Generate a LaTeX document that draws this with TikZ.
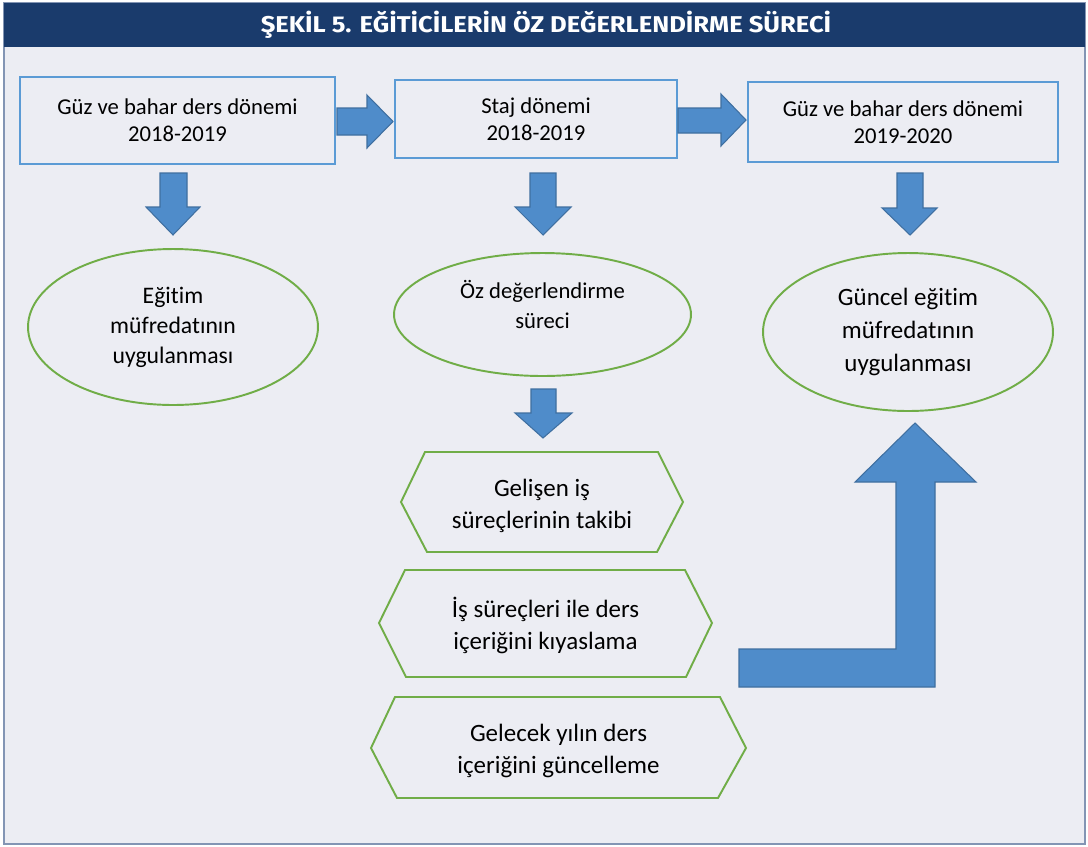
\documentclass[tikz,border=0pt]{standalone}
\usepackage{fontspec}
\setmainfont{Carlito}[Ligatures=NoCommon]
\newfontfamily\titlefont{Fira Sans}
\usetikzlibrary{shapes.geometric}
\definecolor{panelbg}{HTML}{ECEDF3}
\definecolor{framecol}{HTML}{8395B4}
\definecolor{titlebar}{HTML}{1A3B6C}
\definecolor{boxblue}{HTML}{5B9BD5}
\definecolor{ovalgreen}{HTML}{70AD47}
\definecolor{arrowblue}{HTML}{4F8CCA}
\definecolor{arrowedge}{HTML}{3F6FA0}

\begin{document}
\begin{tikzpicture}[x=0.02cm,y=-0.02cm,
 box/.style={draw=boxblue,line width=1.2pt,fill=panelbg,align=center,font=\fontsize{12.9}{15.5}\selectfont},
 oval/.style={ellipse,draw=ovalgreen,line width=1.1pt,inner sep=0pt,align=center},
 hexa/.style={draw=ovalgreen,line width=1.1pt,line join=miter},
 hextext/.style={align=center,font=\fontsize{14.2}{18.2}\selectfont},
 blockarrow/.style={fill=arrowblue,draw=arrowedge,line width=0.6pt,line join=miter}]
 \useasboundingbox (0,0) rectangle (1088,846);
 % panel and title
 \draw[draw=framecol,line width=1.3pt,fill=panelbg](4,3) rectangle (1085,844);
 \fill[titlebar](4,3) rectangle (1085,47);
 \node[text=white,font=\titlefont\bfseries\fontsize{13}{15}\selectfont] (title) at (546,25)
  {\scalebox{1.12}[1]{ŞEKİL 5. EĞİTİCİLERİN ÖZ DEĞERLENDİRME SÜRECİ}};
 % periods
 \node[box,minimum width=6.3cm,minimum height=1.74cm] (guz1) at (177.5,120.5) {Güz ve bahar ders dönemi\\2018-2019};
 \node[box,minimum width=5.64cm,minimum height=1.56cm] (staj) at (536,119) {Staj dönemi\\2018-2019};
 \node[box,minimum width=6.2cm,minimum height=1.6cm] (guz2) at (903,122) {Güz ve bahar ders dönemi\\2019-2020};
 % outcomes
 \node[oval,minimum width=5.8cm,minimum height=3.12cm,font=\fontsize{13.5}{17}\selectfont] (mufr1) at (173,327) {Eğitim\\müfredatının\\uygulanması};
 \node[oval,minimum width=5.94cm,minimum height=2.46cm,font=\fontsize{12.9}{17}\selectfont] (oz) at (542.5,314.5) {Öz değerlendirme\\süreci\\[-6pt]};
 \node[oval,minimum width=5.8cm,minimum height=3.16cm,font=\fontsize{14.2}{18.8}\selectfont] (mufr2) at (908,332) {Güncel eğitim\\müfredatının\\uygulanması};
 % steps
 \draw[hexa](401,502)--(425,452)--(658,452)--(683,502)--(657,552)--(427,552)--cycle;
 \node[hextext] (takip) at (542,506) {Gelişen iş\\süreçlerinin takibi};
 \draw[hexa](379,623)--(405,570)--(685,570)--(712,623)--(686,677)--(406,677)--cycle;
 \node[hextext] (kiyas) at (545.5,625.5) {İş süreçleri ile ders\\içeriğini kıyaslama};
 \draw[hexa](371,748)--(395,697)--(720,697)--(746,748)--(718,798)--(397,798)--cycle;
 \node[hextext] (guncel) at (558.5,751) {Gelecek yılın ders\\içeriğini güncelleme};
 % block arrows
 \draw[blockarrow](337,108)--(367,108)--(367,95)--(393,121.5)--(367,148)--(367,135)--(337,135)--cycle;
 \draw[blockarrow](678,108)--(721,108)--(721,94)--(746,120)--(721,146)--(721,133)--(678,133)--cycle;
 \draw[blockarrow](160,173)--(187,173)--(187,207)--(200,207)--(173,235)--(146,207)--(160,207)--cycle;
 \draw[blockarrow](530,173)--(556,173)--(556,207)--(571,207)--(543,235)--(515,207)--(530,207)--cycle;
 \draw[blockarrow](897,173)--(923,173)--(923,208)--(937,208)--(910,235)--(882,208)--(897,208)--cycle;
 \draw[blockarrow](531,389)--(556,389)--(556,413)--(572,413)--(543,438)--(515,413)--(531,413)--cycle;
 \draw[blockarrow](739,649)--(896,649)--(896,482)--(855,482)--(915,423)--(976,482)--(935,482)--(935,687)--(739,687)--cycle;
\end{tikzpicture}
\end{document}
